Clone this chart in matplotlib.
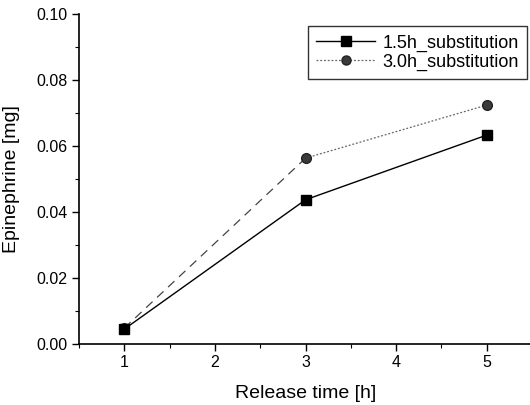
"""
Epinephrine release over time for two substitution times.
"""

import matplotlib
matplotlib.use('Agg')
import matplotlib.pyplot as plt
from matplotlib.ticker import MultipleLocator


# Data

release_time = [1, 3, 5]
sub_15h = [0.0045, 0.0437, 0.0633]
sub_30h = [0.0048, 0.0563, 0.0724]

label_15h = '1.5h_substitution'
label_30h = '3.0h_substitution'


plt.rcParams['font.family'] = ['Liberation Sans', 'DejaVu Sans']

fig = plt.figure(figsize=[5.3, 4.05], dpi=100)
ax = fig.add_axes([0.149, 0.1506, 0.855, 0.815])

# 1.5h series, solid line with squares
ax.plot(release_time, sub_15h, color='black', linewidth=1.0,
        marker='s', markersize=7, markerfacecolor='black',
        markeredgecolor='black', label=label_15h, zorder=3)

# 3.0h series: first segment dashed, rest dotted
ax.plot(release_time[:2], sub_30h[:2], color='#444444', linewidth=0.9,
        linestyle=(0, (7, 5)), zorder=2)
ax.plot(release_time[1:], sub_30h[1:], color='#666666', linewidth=0.9,
        linestyle=(0, (1.5, 1.5)), zorder=2)
ax.plot(release_time, sub_30h, linestyle='none', marker='o', markersize=7,
        markerfacecolor='#3a3a3a', markeredgecolor='#222222', zorder=2)

# legend proxy for the 3.0h series
ax.plot([], [], color='#666666', linewidth=0.9, linestyle=(0, (1.5, 1.5)),
        marker='o', markersize=6.5, markerfacecolor='#3a3a3a',
        markeredgecolor='#222222', label=label_30h)

ax.set_xlim(0.5, 5.5)
ax.set_ylim(0.0, 0.10)
ax.xaxis.set_major_locator(MultipleLocator(1))
ax.xaxis.set_minor_locator(MultipleLocator(0.5))
ax.yaxis.set_major_locator(MultipleLocator(0.02))
ax.yaxis.set_minor_locator(MultipleLocator(0.01))
ax.yaxis.set_major_formatter(plt.FormatStrFormatter('%.2f'))

ax.spines['top'].set_visible(False)
ax.spines['right'].set_visible(False)
for side in ['left', 'bottom']:
    ax.spines[side].set_linewidth(1.2)

ax.tick_params(which='major', direction='out', length=5, width=1.0,
               labelsize=11.5, colors='black', pad=3)
ax.tick_params(which='minor', direction='out', length=3, width=0.8)

ax.set_xlabel('Release time [h]', fontsize=14, labelpad=11)
ax.set_ylabel('Epinephrine [mg]', fontsize=14, labelpad=12)

leg = ax.legend(loc='upper right', bbox_to_anchor=(0.989, 0.962),
                fontsize=13, frameon=True, fancybox=False,
                handlelength=3.3, borderpad=0.45, labelspacing=0.1,
                handletextpad=0.4, borderaxespad=0.0)
leg.get_frame().set_edgecolor('black')
leg.get_frame().set_linewidth(1.0)

plt.savefig('out.png', dpi=100)
